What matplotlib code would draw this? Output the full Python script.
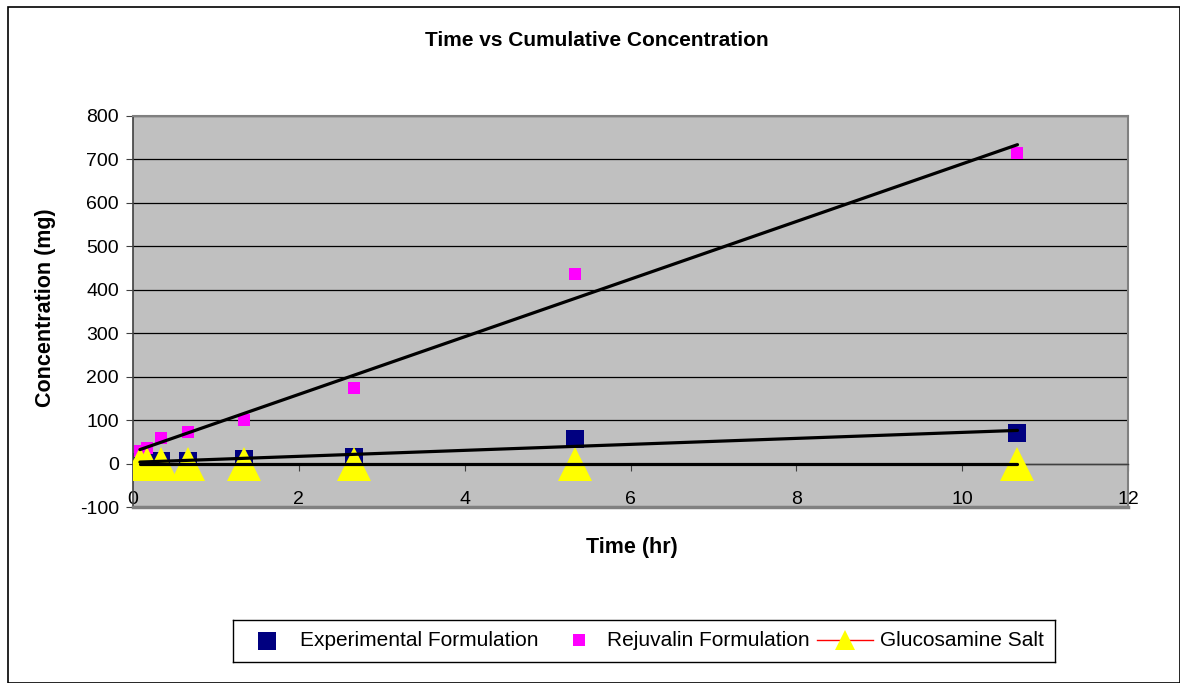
import numpy as np
import matplotlib
matplotlib.use("Agg")
import matplotlib.pyplot as plt
from matplotlib.patches import Rectangle

plt.rcParams['font.family'] = ['Liberation Sans', 'DejaVu Sans']
plt.rcParams['axes.unicode_minus'] = False

time_hr = [0.083, 0.167, 0.333, 0.667, 1.333, 2.667, 5.333, 10.667]
experimental = [3, 4, 5, 6, 10, 15, 56, 70]
rejuvalin = [30, 36, 58, 73, 100, 174, 436, 715]
glucosamine = [0, 0, 0, 0, 0, 0, 0, 0]
x_ticks = [0, 2, 4, 6, 8, 10, 12]
y_ticks = [-100, 0, 100, 200, 300, 400, 500, 600, 700, 800]
series_names = ['Experimental Formulation', 'Rejuvalin Formulation', 'Glucosamine Salt']

W, H = 1180, 683
fig = plt.figure(figsize=(W / 100, H / 100), dpi=100)
fig.patch.set_facecolor('white')
fig.add_artist(Rectangle((8 / W, 0), 1 - 8 / W - 0.5 / W, 1 - 7 / H,
                         transform=fig.transFigure, fill=False,
                         edgecolor='black', linewidth=1.2))

ax = fig.add_axes([133 / W, 1 - 507 / H, (1128 - 133) / W, (507 - 116) / H])
ax.set_facecolor('#C0C0C0')
ax.set_xlim(0, 12)
ax.set_ylim(-100, 800)
ax.set_yticks(y_ticks)
ax.set_xticks(x_ticks)
for yv in y_ticks[1:]:
    ax.axhline(yv, color='black', linewidth=0.9, zorder=1)

for s in ['top', 'right']:
    ax.spines[s].set_color('#808080')
    ax.spines[s].set_linewidth(1.5)
ax.spines['left'].set_color('#404040')
ax.spines['left'].set_linewidth(1.2)
ax.spines['bottom'].set_position(('data', 0))
ax.spines['bottom'].set_color('#404040')
ax.spines['bottom'].set_linewidth(1.0)
ax.axhline(-100, color='#808080', linewidth=2.5, zorder=5, clip_on=False)

ax.tick_params(axis='y', direction='out', length=5, labelsize=14, pad=5, color='#404040')
ax.tick_params(axis='x', direction='out', length=5, labelsize=14, pad=15, color='#404040')

# series
ax.plot(time_hr, glucosamine, color='red', linewidth=1, zorder=2)
ax.plot(time_hr, glucosamine, linestyle='none', marker='^', markersize=24.5,
        color='#FFFF00', markeredgewidth=0, zorder=3)
ax.plot(time_hr, experimental, linestyle='none', marker='s', markersize=13,
        color='#000080', markeredgewidth=0, zorder=2.5)
ax.plot(time_hr, rejuvalin, linestyle='none', marker='s', markersize=8.5,
        color='#FF00FF', markeredgewidth=0, zorder=2.5)

# linear trendlines
xs = np.array([time_hr[0], time_hr[-1]])
for series in (rejuvalin, experimental, glucosamine):
    m, b = np.polyfit(time_hr, series, 1)
    ax.plot(xs, m * xs + b, color='black', linewidth=2.3, zorder=4,
            solid_capstyle='round')

fig.text(597 / W, 1 - 41 / H, 'Time vs Cumulative Concentration', ha='center',
         va='center', fontsize=15, fontweight='bold')
fig.text(46 / W, 1 - 308 / H, 'Concentration (mg)', rotation=90, ha='center',
         va='center', fontsize=15.5, fontweight='bold')
fig.text(632 / W, 1 - 547 / H, 'Time (hr)', ha='center', va='center',
         fontsize=15.5, fontweight='bold')

# legend drawn in its own pixel-coordinate axes
lg = fig.add_axes([233 / W, 1 - 662 / H, (1055 - 233) / W, (662 - 620) / H])
lg.set_xlim(233, 1055)
lg.set_ylim(662, 620)
lg.set_xticks([])
lg.set_yticks([])
lg.set_facecolor('white')
for s in lg.spines.values():
    s.set_color('black')
    s.set_linewidth(1.0)
lg.plot([267], [641], linestyle='none', marker='s', markersize=13.5,
        color='#000080', markeredgewidth=0)
lg.plot([579], [640], linestyle='none', marker='s', markersize=8.5,
        color='#FF00FF', markeredgewidth=0)
lg.plot([817, 873], [640, 640], color='red', linewidth=1)
lg.plot([845], [640], linestyle='none', marker='^', markersize=15,
        color='#FFFF00', markeredgewidth=0)
for xpos, name in zip([300, 607, 880], series_names):
    lg.text(xpos, 640, name, ha='left', va='center', fontsize=15)

fig.savefig('out.png', dpi=100)
